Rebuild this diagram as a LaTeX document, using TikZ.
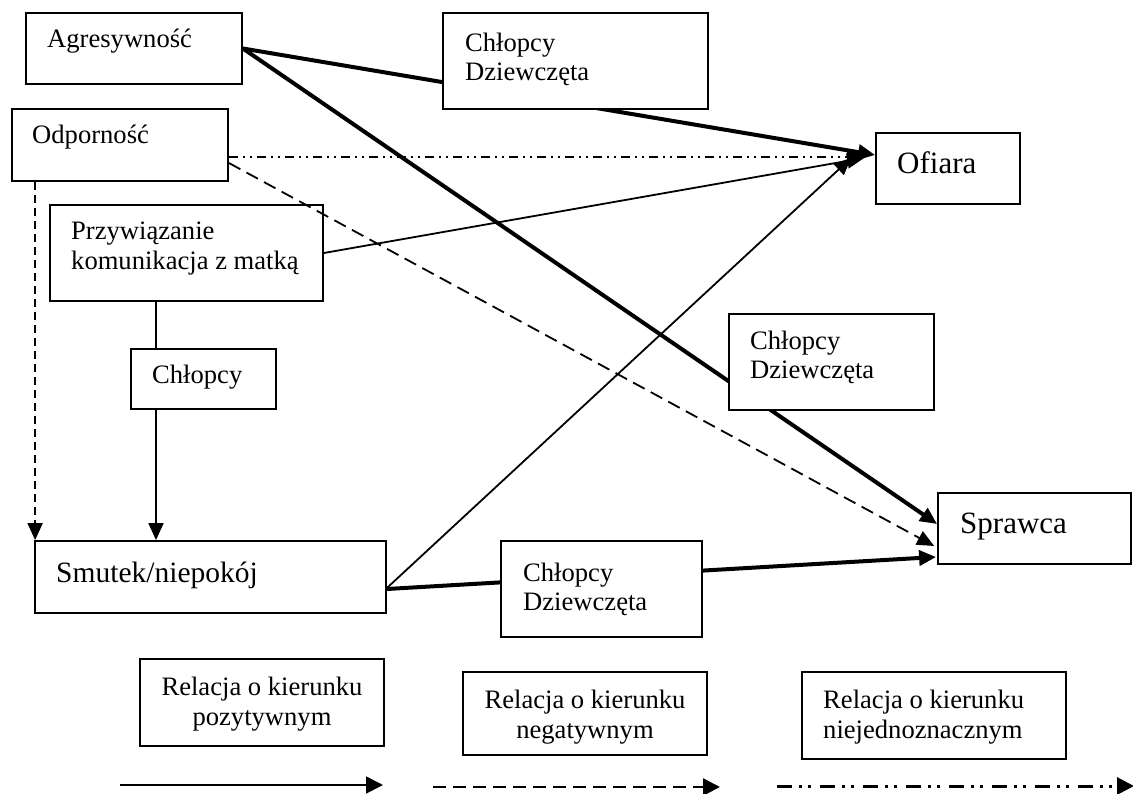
\documentclass[tikz,border=0pt]{standalone}
\usepackage{fontspec}
\setmainfont{Liberation Serif}
\usetikzlibrary{arrows.meta,calc}
\pgfdeclarelayer{lines}
\pgfsetlayers{lines,main}

\newcommand{\twolines}[3]{\begin{tabular}[t]{@{}#1@{}}#2\\#3\end{tabular}}

\tikzset{
  box/.style={draw, line width=1.8pt, inner sep=0pt},
  cover/.style={box, fill=white},
  lbl/.style={inner sep=0pt, anchor=base west, font=\fontsize{26.6}{29}\selectfont},
  lblwide/.style={lbl, font=\fontsize{26.6}{30}\selectfont},
  biglbl/.style={inner sep=0pt, anchor=base west, font=\fontsize{31}{34}\selectfont},
  link/.style={line width=1.8pt},
  heavy/.style={line width=4pt},
  arr/.style={-{Triangle[length=17pt,width=15pt]}},
  legarr/.style={-{Triangle[length=17pt,width=17pt]}},
  negdash/.style={dash pattern=on 13pt off 7pt},
  shortdash/.style={dash pattern=on 8pt off 5pt},
  ambig/.style={dash pattern=on 9pt off 5pt on 2pt off 5pt on 2pt off 5pt},
  legambig/.style={dash pattern=on 15pt off 7pt on 3pt off 6pt on 3pt off 9pt},
}

\begin{document}
\begin{tikzpicture}[x=1pt,y=-1pt]
\useasboundingbox (0,0) rectangle (1133,794);

% predictor boxes
\node[box, minimum width=216pt, minimum height=71pt] (agr) at (134,48.5) {};
\node[lbl] (agr-t) at (47,48) {Agresywność};

\node[box, minimum width=216pt, minimum height=72pt] (odp) at (120,145) {};
\node[lbl] (odp-t) at (32,144) {Odporność};

\node[box, minimum width=273pt, minimum height=96pt] (prz) at (186.5,253) {};
\node[lblwide] (prz-t) at (71,240) {\twolines{l}{Przywiązanie}{komunikacja z matką}};

\node[box, minimum width=145pt, minimum height=60pt] (chl) at (203.5,379) {};
\node[lbl] (chl-t) at (152,384) {Chłopcy};

\node[box, minimum width=351pt, minimum height=72pt] (smu) at (210.5,577) {};
\node[inner sep=0pt, anchor=base west, font=\fontsize{29.5}{33}\selectfont] (smu-t) at (56,582) {Smutek/niepokój};

% outcome boxes
\node[box, minimum width=144pt, minimum height=71pt] (ofi) at (948,168.5) {};
\node[biglbl] (ofi-t) at (897,174) {Ofiara};

\node[box, minimum width=193pt, minimum height=71pt] (spr) at (1034.5,528.5) {};
\node[biglbl] (spr-t) at (960,533) {Sprawca};

% group boxes lying over the paths
\node[cover, minimum width=265pt, minimum height=96pt] (cd1) at (575.5,61) {};
\node[lbl] (cd1-t) at (465,51.5) {\twolines{l}{Chłopcy}{Dziewczęta}};

\node[cover, minimum width=205pt, minimum height=96pt] (cd2) at (831.5,362) {};
\node[lbl] (cd2-t) at (750,350) {\twolines{l}{Chłopcy}{Dziewczęta}};

\node[cover, minimum width=201pt, minimum height=96pt] (cd3) at (601.5,589) {};
\node[lbl] (cd3-t) at (523,581) {\twolines{l}{Chłopcy}{Dziewczęta}};

% legend
\node[box, minimum width=244pt, minimum height=87pt] (lg1) at (262,702.5) {};
\node[lblwide, anchor=base] (lg1-t) at (262,695) {\twolines{c}{Relacja o kierunku}{pozytywnym}};

\node[box, minimum width=244pt, minimum height=83pt] (lg2) at (585,713.5) {};
\node[lblwide, anchor=base] (lg2-t) at (585,708) {\twolines{c}{Relacja o kierunku}{negatywnym}};

\node[box, minimum width=264pt, minimum height=87pt] (lg3) at (934,715.5) {};
\node[lblwide] (lg3-t) at (823,708) {\twolines{l}{Relacja o kierunku}{niejednoznacznym}};

\coordinate (s1) at (120,785);  \coordinate (e1) at (383,785);
\coordinate (s2) at (433,787);  \coordinate (e2) at (720,787);
\coordinate (s3) at (777,786);  \coordinate (e3) at (1134,786);

\draw[link, legarr] (s1) -- (e1);
\draw[line width=2.5pt, negdash, legarr] (s2) -- (e2);
\draw[line width=3pt, legambig, legarr] (s3) -- (e3);

% paths
\begin{pgfonlayer}{lines}
  \draw[heavy, arr] (agr.east) -- ([yshift=13.5pt]ofi.west);
  \draw[heavy, arr] (agr.east) -- ([yshift=4.5pt]spr.west);

  \draw[link, ambig, arr] ([yshift=-12pt]odp.east) -- ([xshift=-11pt,yshift=11.5pt]ofi.west);
  \draw[link, negdash, arr] ([yshift=-18pt]odp.east) -- ([xshift=-3pt,yshift=-17.5pt]spr.west);
  \draw[link, shortdash, arr] ([xshift=24pt]odp.south west) -- ([xshift=24pt]odp.south west |- smu.north);

  \draw[link, arr] (prz.east) -- ([xshift=-11pt,yshift=10.5pt]ofi.west);
  \draw[link] ([xshift=-30.5pt]prz.south) -- ([xshift=-30.5pt]prz.south |- chl.north);
  \draw[link, arr] ([xshift=-47.5pt]chl.south) -- ([xshift=-47.5pt]chl.south |- smu.north);

  \draw[link, arr] ([yshift=-11pt]smu.east) -- ([xshift=-24pt,yshift=10.5pt]ofi.west);
  \draw[heavy, arr] ([yshift=-12pt]smu.east) -- ([xshift=-1pt,yshift=-28.5pt]spr.west);
\end{pgfonlayer}
\end{tikzpicture}
\end{document}
